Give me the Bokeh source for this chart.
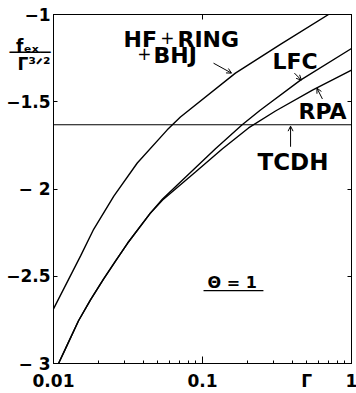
from bokeh.plotting import figure
from bokeh.models import (Label, Arrow, OpenHead, Span, FixedTicker, LinearAxis,
                          LogAxis, Range1d, CustomJSTickFormatter)
from bokeh.embed import file_html
from bokeh.resources import INLINE

# ---------------- data ----------------
gamma_hf = [0.01, 0.0152, 0.0186, 0.0254, 0.0365, 0.0580, 0.0711, 0.1663, 0.3334, 0.7015, 1.0]
fex_hf = [-2.687, -2.383, -2.231, -2.041, -1.851, -1.661, -1.587, -1.336, -1.171, -1.0, -0.92]

gamma_lfc = [0.01081, 0.01204, 0.01472, 0.01771, 0.02166, 0.02606, 0.03139,
             0.04480, 0.05395, 0.0830, 0.1222, 0.1846, 0.2449, 0.4546, 1.0]
fex_lfc = [-3.0, -2.915, -2.755, -2.635, -2.516, -2.413, -2.311,
           -2.137, -2.057, -1.906, -1.769, -1.632, -1.547, -1.376, -1.195]

gamma_rpa = [0.01081, 0.01204, 0.01472, 0.01771, 0.02166, 0.02606, 0.03139,
             0.04480, 0.05395, 0.0897, 0.1362, 0.2037, 0.3090, 0.5470, 1.0]
fex_rpa = [-3.0, -2.915, -2.755, -2.635, -2.516, -2.413, -2.311,
           -2.137, -2.063, -1.903, -1.769, -1.650, -1.553, -1.433, -1.319]

tcdh_value = -1.632

x_major = [0.01, 0.1, 1.0]
x_minor = [0.02, 0.03, 0.04, 0.05, 0.06, 0.07, 0.08, 0.09,
           0.2, 0.3, 0.4, 0.5, 0.6, 0.7, 0.8, 0.9]
x_tick_labels = ["0.01", "0.1", "1"]
y_ticks = [-3.0, -2.5, -2.0, -1.5, -1.0]
y_tick_labels = ["\u2212 3", "\u22122.5", "\u2212 2", "\u22121.5", "\u22121"]

# axis titles (written in the tick-label rows, as in the reference)
x_title_pos, x_title = 0.5, "\u0393"
y_title_pos = [-1.182, -1.2165, -1.284]
y_title = ["f\u2091\u2093\u00a0\u00a0", "\u2500\u2500\u2500\u2500", "\u0393\u00b3\u141f\u00b2"]

FONT = "DejaVu Sans"

p = figure(width=356, height=393, x_axis_type="log", x_axis_location=None, y_axis_location=None,
           x_range=Range1d(0.01, 1.0), y_range=Range1d(-3.0, -1.0),
           output_backend="svg", toolbar_location=None,
           min_border_left=53, min_border_right=5, min_border_top=14, min_border_bottom=28)
p.xgrid.visible = False
p.ygrid.visible = False
p.outline_line_color = "black"
p.outline_line_width = 1
p.background_fill_color = "white"
p.border_fill_color = "white"

fmt_js = ("const i = tv.findIndex(t => Math.abs(t - tick) < 1e-9*Math.max(1, Math.abs(t)));"
          " return i >= 0 ? tl[i] : '';")


def blank():
    return CustomJSTickFormatter(code="return '';")


def tick_only(cls, ticker, tin, mtin=0):
    return cls(ticker=ticker, formatter=blank(), major_tick_in=tin, major_tick_out=0,
               minor_tick_in=mtin, minor_tick_out=0, major_label_standoff=0,
               major_label_text_font_size="1px", axis_line_color="black",
               major_tick_line_color="black", minor_tick_line_color="black")


# bottom: tick marks axis (next to frame), then label axis
p.add_layout(tick_only(LogAxis, FixedTicker(ticks=x_major, minor_ticks=x_minor), 7, 3), "below")
xl_ticks = x_major + [x_title_pos]
xl_labels = x_tick_labels + [x_title]
xd = LogAxis(ticker=FixedTicker(ticks=xl_ticks, minor_ticks=[]),
             formatter=CustomJSTickFormatter(args=dict(tv=xl_ticks, tl=xl_labels), code=fmt_js),
             major_tick_in=0, major_tick_out=0, minor_tick_in=0, minor_tick_out=0,
             axis_line_color=None, major_label_standoff=7,
             major_label_text_font=FONT, major_label_text_font_style="bold",
             major_label_text_font_size="17px", major_label_text_color="black")
p.add_layout(xd, "below")

# left: tick marks axis, then label axis
p.add_layout(tick_only(LinearAxis, FixedTicker(ticks=y_ticks), 4), "left")
yl_ticks = y_ticks + y_title_pos
yl_labels = y_tick_labels + y_title
yd = LinearAxis(ticker=FixedTicker(ticks=yl_ticks, minor_ticks=[]),
                formatter=CustomJSTickFormatter(args=dict(tv=yl_ticks, tl=yl_labels), code=fmt_js),
                major_tick_in=0, major_tick_out=0, minor_tick_in=0, minor_tick_out=0,
                axis_line_color=None, major_label_standoff=3,
                major_label_text_font=FONT, major_label_text_font_style="bold",
                major_label_text_font_size="17px", major_label_text_color="black")
p.add_layout(yd, "left")

# mirrored ticks
p.add_layout(tick_only(LinearAxis, FixedTicker(ticks=y_ticks), 4), "right")
p.add_layout(tick_only(LogAxis, FixedTicker(ticks=x_major, minor_ticks=[]), 5), "above")

# curves
LW = 1.4
p.line(gamma_hf, fex_hf, line_color="black", line_width=LW)
p.line(gamma_lfc, fex_lfc, line_color="black", line_width=LW)
p.line(gamma_rpa, fex_rpa, line_color="black", line_width=LW)
p.add_layout(Span(location=tcdh_value, dimension="width", line_color="black", line_width=1.1))


def lab(text, x, y, size, bold=True, align="left"):
    # y is the vertical centre of the capitals
    p.add_layout(Label(x=x, y=y, text=text, text_font=FONT,
                       text_font_style="bold" if bold else "normal",
                       text_font_size=f"{size}px", text_align=align,
                       text_baseline="middle", text_color="black"))


# curve labels
lab("HF", 0.0295, -1.1453, 22)
lab("+", 0.0582, -1.134, 17, bold=False, align="center")
lab("RING", 0.0679, -1.1453, 22)
lab("+", 0.0408, -1.225, 17, bold=False, align="center")
lab("BHJ", 0.0469, -1.2365, 22)
lab("LFC", 0.295, -1.268, 22)
lab("RPA", 0.4406, -1.5556, 22)
lab("TCDH", 0.234, -1.843, 23)
lab("\u0398 = 1", 0.108, -2.533, 16)
p.segment(x0=[0.1016], y0=[-2.582], x1=[0.2564], y1=[-2.582], line_color="black", line_width=1.2)

# arrows
arrows = [((0.1186, -1.279), (0.1567, -1.336)),
          ((0.414, -1.336), (0.461, -1.376)),
          ((0.638, -1.484), (0.586, -1.422)),
          ((0.390, -1.758), (0.390, -1.640))]
for (xs, ys), (xe, ye) in arrows:
    p.add_layout(Arrow(x_start=xs, y_start=ys, x_end=xe, y_end=ye, line_width=1,
                       line_color="black",
                       end=OpenHead(size=5, line_width=1, line_color="black")))

open("out.html", "w").write(file_html(p, INLINE))
